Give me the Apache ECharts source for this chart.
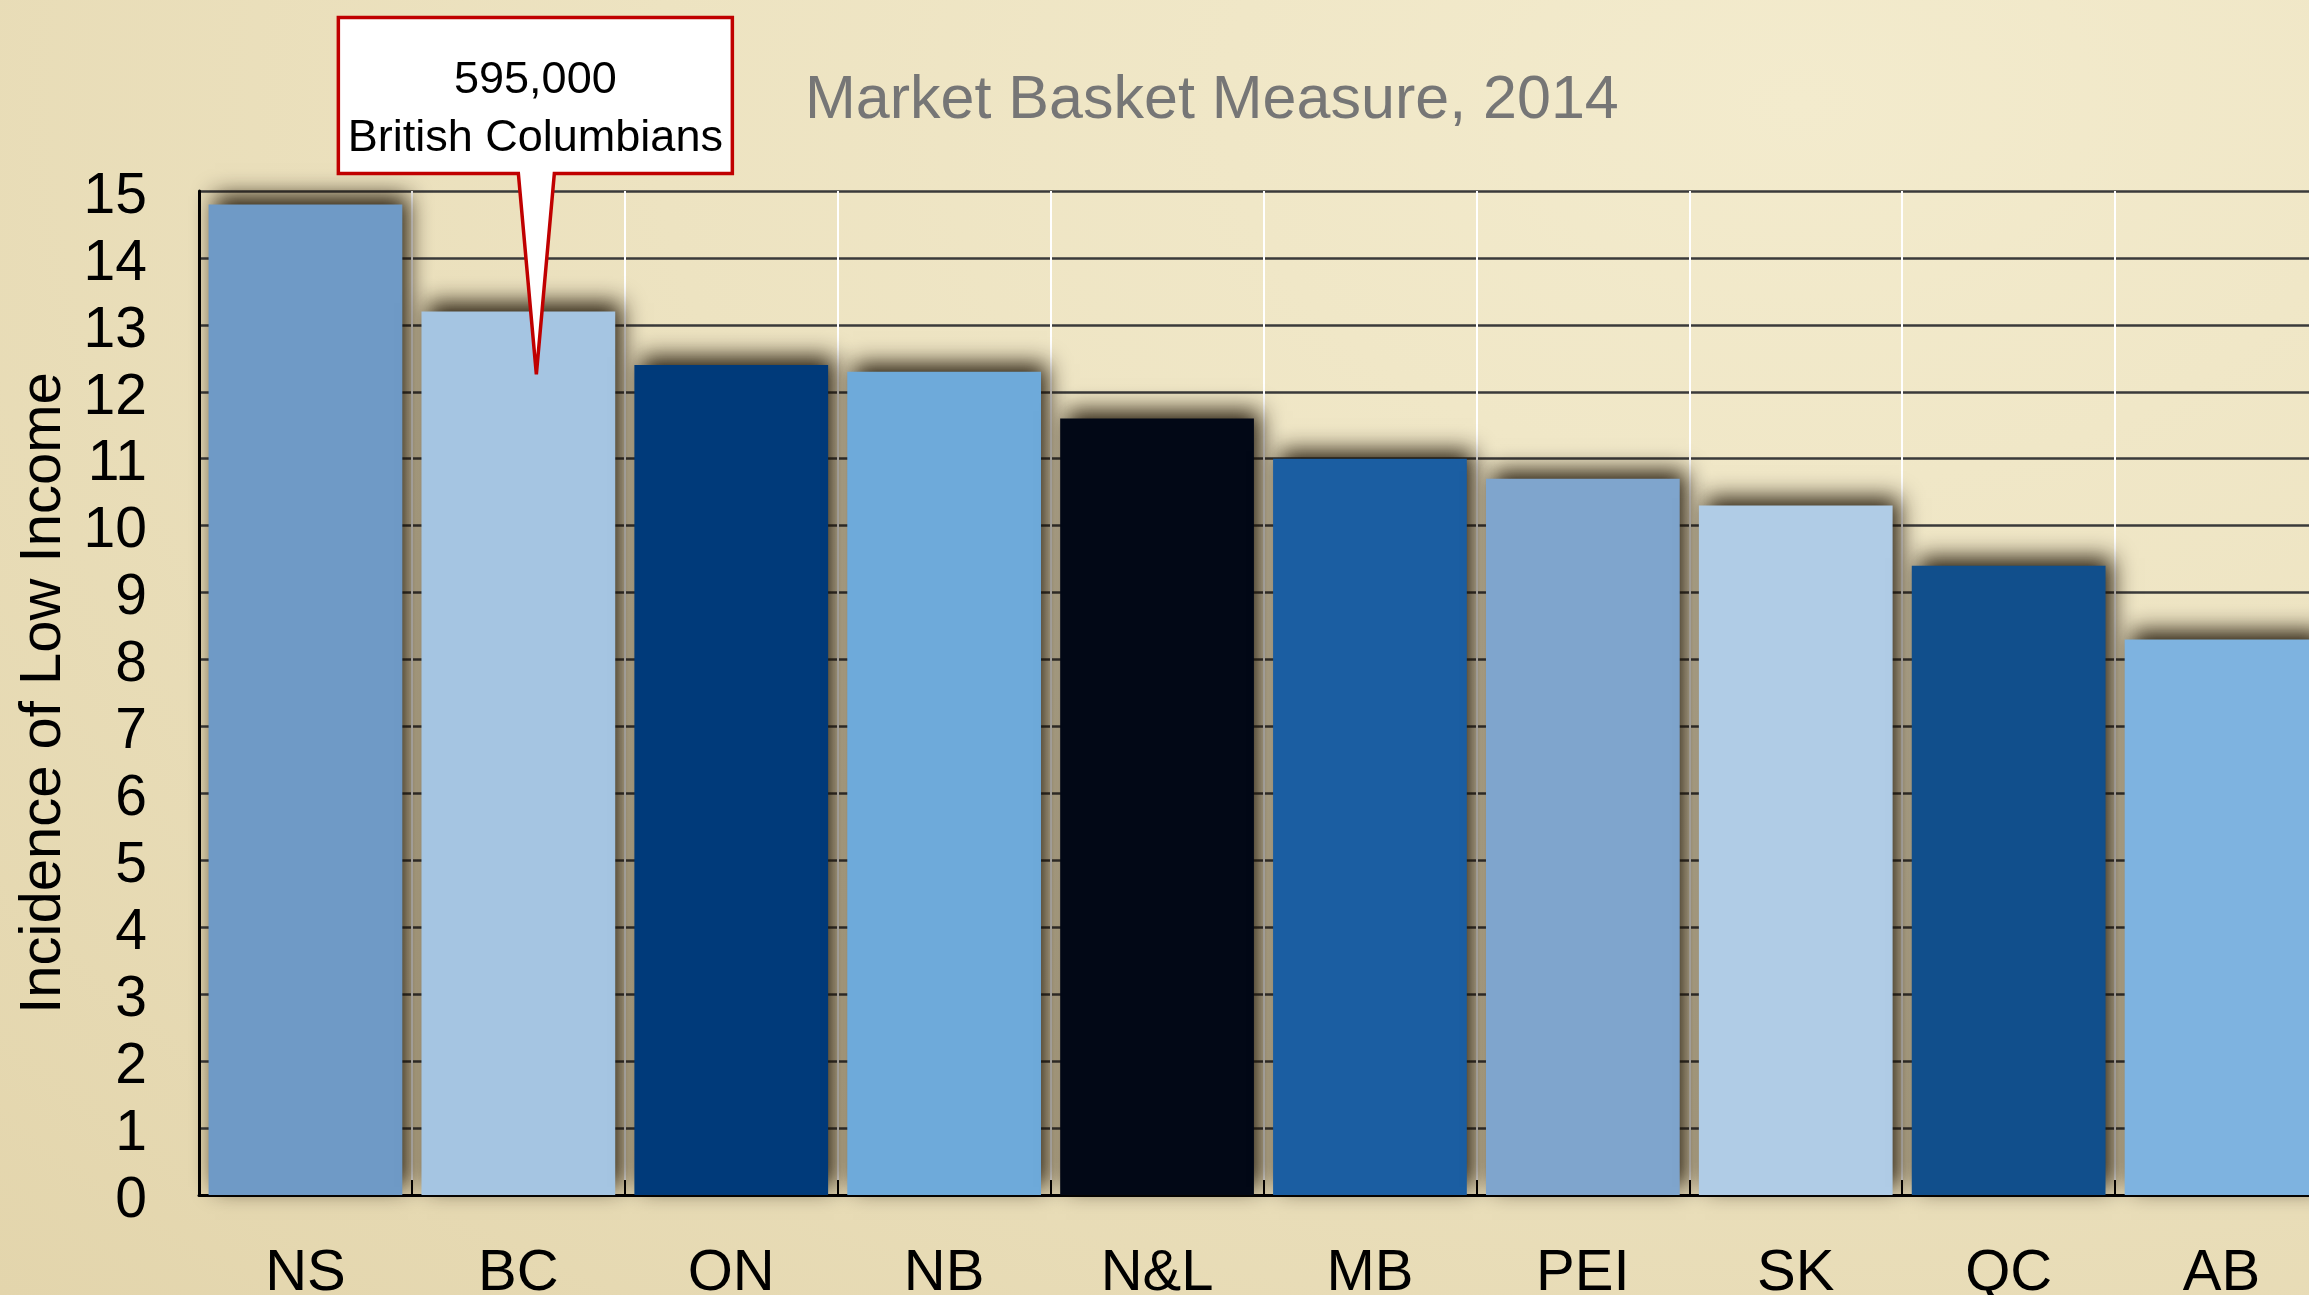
<!DOCTYPE html>
<html style="height: 100%">
<head>
    <meta charset="UTF-8">
    <script src="https://cdn.jsdelivr.net/npm/echarts@6/dist/echarts.min.js"></script>
    <style type="text/css">
        html, body { margin: 0; overflow: hidden; }
        #paint {
            width: 2309px; height: 1295px;
            background: radial-gradient(ellipse at 78% 8%, #F3EBCD 0%, #EDE3C1 45%, #E3D5AC 100%);
        }
    </style>
</head>
<body>
    <div id="paint"></div>
<script>
    // provinces, incidence of low income (MBM 2014)
    var categories = ['NS', 'BC', 'ON', 'NB', 'N&L', 'MB', 'PEI', 'SK', 'QC', 'AB'];
    var lowIncome = [14.8, 13.2, 12.4, 12.3, 11.6, 11.0, 10.7, 10.3, 9.4, 8.3];
    var barColors = ['#6F9AC6', '#A5C5E2', '#003A7A', '#6EAADA', '#020816',
                     '#1B5EA2', '#7FA5CD', '#B0CCE6', '#114F8C', '#7EB3E0'];
    var yMin = 0, yMax = 15, yStep = 1;

    var chartTitle = 'Market Basket Measure, 2014';
    var yName = 'Incidence of Low Income';

    // callout pointing into the BC bar
    var calloutLines = ['595,000', 'British Columbians'];
    var calloutCategory = 'BC';
    var calloutValue = 12.26;

    var font = 'Liberation Sans, Arial, Helvetica, sans-serif';

    var chart = echarts.init(document.getElementById('paint'));
    chart.setOption({
        backgroundColor: 'transparent',
        title: {
            text: chartTitle,
            left: 800,
            top: 66,
            textStyle: {fontSize: 61, fontWeight: 'normal', color: '#767676', fontFamily: font}
        },
        grid: {
            left: 199,
            top: 191,
            width: 2129,   // last bar runs past the right edge, as in the slide
            height: 1004,
            outerBoundsMode: 'none'
        },
        xAxis: {
            type: 'category',
            data: categories,
            axisLine: {lineStyle: {color: '#000000', width: 3}},
            axisTick: {show: true, inside: true, length: 15, lineStyle: {color: '#000000', width: 2}},
            axisLabel: {fontSize: 58, color: '#000000', fontFamily: font, margin: 50},
            splitLine: {
                show: true,
                interval: function (index) { return index > 0; },
                lineStyle: {color: '#FFFFFF', width: 2}
            }
        },
        yAxis: {
            type: 'value',
            min: yMin,
            max: yMax,
            interval: yStep,
            name: yName,
            nameLocation: 'middle',
            nameRotate: 90,
            nameGap: 124,
            nameTextStyle: {fontSize: 58, color: '#000000', fontFamily: font},
            axisLine: {show: true, lineStyle: {color: '#000000', width: 3}},
            axisTick: {show: false},
            axisLabel: {
                margin: 52,
                formatter: '{v|{value}}',
                rich: {v: {fontSize: 57, color: '#000000', fontFamily: font, padding: [12, 0, 0, 0]}}
            },
            splitLine: {show: true, lineStyle: {color: '#3A3A3A', width: 2.5}}
        },
        series: [{
            type: 'bar',
            barCategoryGap: '9%',
            data: lowIncome.map(function (v, i) {
                return {value: v, itemStyle: {color: barColors[i]}};
            }),
            itemStyle: {
                shadowBlur: 22,
                shadowColor: 'rgba(25, 15, 0, 0.95)',
                shadowOffsetX: 6,
                shadowOffsetY: -8
            },
            animation: false
        }]
    });

    // callout box with a pointer, placed from the BC bar position
    var tip = chart.convertToPixel({seriesIndex: 0}, [calloutCategory, calloutValue]);
    var tx = tip[0] + 18, ty = tip[1];
    var boxL = tx - 198, boxR = tx + 196, boxT = ty - 357, boxB = ty - 201;
    chart.setOption({
        graphic: [
            {
                type: 'polygon',
                z: 100,
                shape: {points: [[boxL, boxT], [boxR, boxT], [boxR, boxB], [tx + 18, boxB], [tx, ty],
                                 [tx - 18, boxB], [boxL, boxB]]},
                style: {fill: '#FFFFFF', stroke: '#C00000', lineWidth: 3.5, lineJoin: 'miter'}
            },
            {
                type: 'text', z: 101,
                x: (boxL + boxR) / 2, y: boxT + 63,
                style: {text: calloutLines[0], fontSize: 45, fontFamily: font, fill: '#000000',
                        align: 'center', verticalAlign: 'middle'}
            },
            {
                type: 'text', z: 101,
                x: (boxL + boxR) / 2, y: boxT + 121,
                style: {text: calloutLines[1], fontSize: 45, fontFamily: font, fill: '#000000',
                        align: 'center', verticalAlign: 'middle'}
            }
        ]
    });
</script>
</body>
</html>
